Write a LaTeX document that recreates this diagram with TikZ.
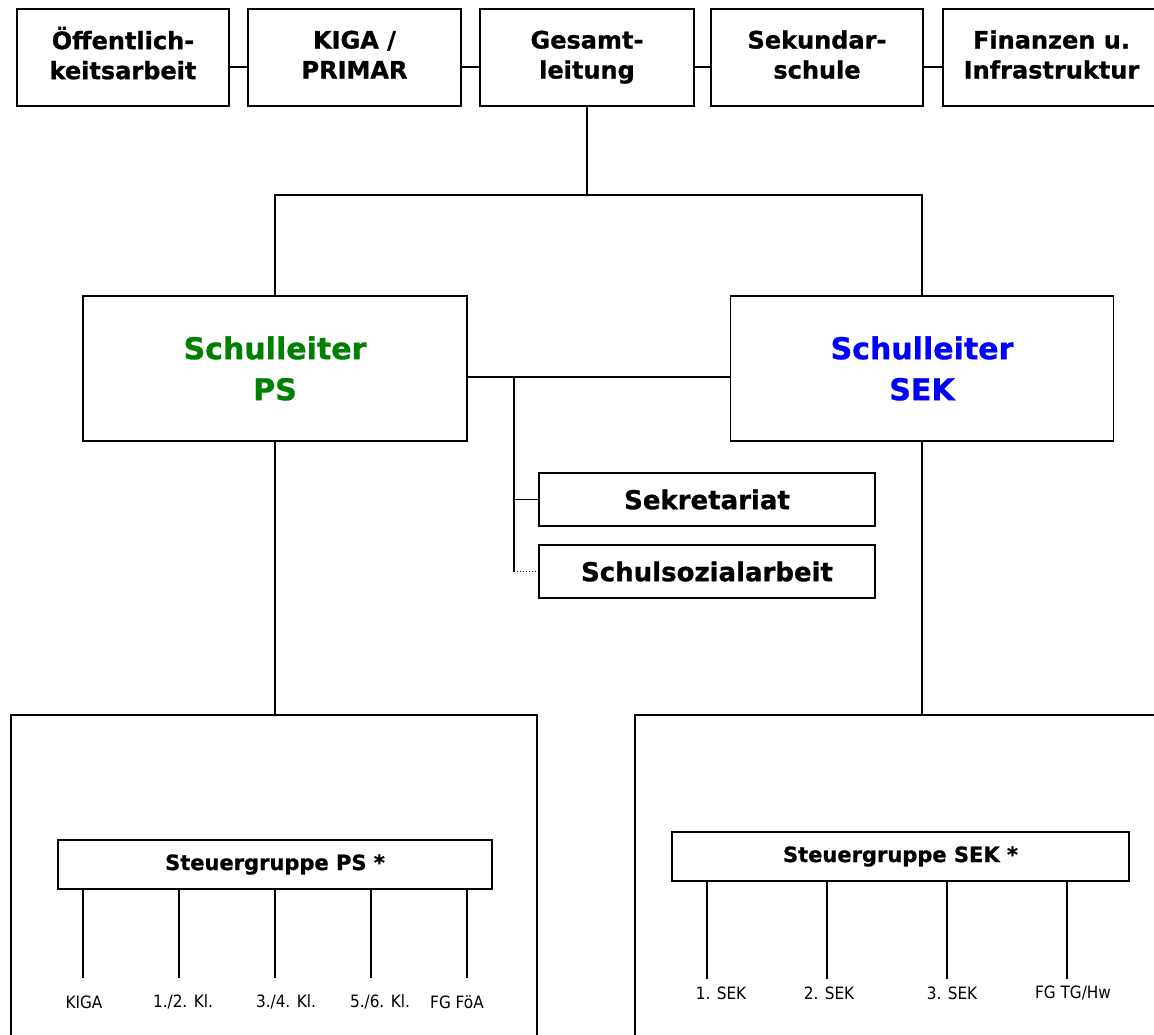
\documentclass[tikz,border=0pt]{standalone}
\usepackage{fontspec}
\setmainfont{DejaVu Sans}[BoldFeatures={FakeBold=1}]
\newfontfamily\condfont{DejaVu Sans Condensed}
\usetikzlibrary{calc}
\definecolor{psgreen}{RGB}{0,128,0}
\definecolor{sekblue}{RGB}{0,0,255}

\begin{document}
\begin{tikzpicture}[x=1pt,y=-1pt,line width=1.6pt,
  box/.style={draw,rectangle,line width=1.6pt,align=center,inner sep=0pt},
  topbox/.style={box,minimum width=212pt,minimum height=97pt,font=\bfseries\fontsize{24}{30}\selectfont},
  leitbox/.style={box,minimum width=384pt,minimum height=145pt,font=\bfseries\fontsize{30}{41}\selectfont},
  stabbox/.style={box,minimum width=336pt,minimum height=53pt,font=\bfseries\fontsize{26}{30}\selectfont},
  stgbox/.style={box,minimum height=49pt,font=\bfseries\fontsize{21}{25}\selectfont},
  stufe/.style={font=\condfont\fontsize{17}{20}\selectfont,inner sep=0pt}]
\clip (0,0) rectangle (1154,1034);

% top row
\node[topbox] (oeff) at (123,57.5) {Öffentlich-\strut\\keitsarbeit\strut};
\node[topbox,minimum width=213pt] (kiga) at (354.5,57.5) {KIGA /\strut\\PRIMAR\strut};
\node[topbox,minimum width=214pt] (gesamt) at (587,57.5) {Gesamt-\strut\\leitung\strut};
\node[topbox] (sek) at (817,57.5) {Sekundar-\strut\\schule\strut};
\node[topbox,minimum width=217pt] (fin) at (1051.5,57.5) {Finanzen u.\strut\\Infrastruktur\strut};

\draw ($(oeff.east)+(0,9.5)$) -- ($(kiga.west)+(0,9.5)$);
\draw ($(kiga.east)+(0,9.5)$) -- ($(gesamt.west)+(0,9.5)$);
\draw ($(gesamt.east)+(0,9.5)$) -- ($(sek.west)+(0,9.5)$);
\draw ($(sek.east)+(0,9.5)$) -- ($(fin.west)+(0,9.5)$);

% school heads
\node[leitbox,text=psgreen] (slps) at (275,368.5) {Schulleiter\\PS};
\node[leitbox,text=sekblue,minimum width=383pt] (slsek) at (922,368.5) {Schulleiter\\SEK};

\coordinate (split) at (587,195);
\draw (gesamt.south) -- (split);
\draw (slps.north) |- (split) -| (slsek.north);

\draw ($(slps.east)+(0,8.5)$) -- ($(slsek.west)+(0,8.5)$);

% staff
\node[stabbox] (sekr) at (707,499.5) {Sekretariat};
\node[stabbox] (ssa) at (707,571.5) {Schulsozialarbeit};

\coordinate (branch) at (514,377);
\draw (branch) -- (branch |- ssa.west);
\draw (branch |- sekr.west) -- (sekr.west);
\draw[dotted,line width=1pt] (branch |- ssa.west) -- (ssa.west);

% units
\node[box,minimum width=526pt,minimum height=335pt] (ps) at (274,882.5) {};
\node[box,minimum width=535pt,minimum height=335pt] (sekunit) at (902.5,882.5) {};
\draw (slps.south) -- (slps.south |- ps.north);
\draw (slsek.south) -- (slsek.south |- sekunit.north);

\node[stgbox,minimum width=434pt] (stgps) at (275,864.5) {Steuergruppe PS *};
\node[stgbox,minimum width=457pt] (stgsek) at (900.5,856.5) {Steuergruppe SEK *};

\foreach \x/\lx/\t [count=\i] in {83/84/KIGA, 179/183/{1./2. Kl.}, 275/286/{3./4. Kl.}, 371/380/{5./6. Kl.}, 467/457/{FG FöA}}{
  \coordinate (pe\i) at (\x,978);
  \draw (pe\i |- stgps.south) -- (pe\i);
  \node[stufe] (pl\i) at (\lx,1002) {\t};
}
\foreach \x/\lx/\t [count=\i] in {707/721/{1. SEK}, 827/829/{2. SEK}, 947/952/{3. SEK}, 1067/1073/{FG TG/Hw}}{
  \coordinate (se\i) at (\x,979);
  \draw (se\i |- stgsek.south) -- (se\i);
  \node[stufe] (sl\i) at (\lx,993) {\t};
}

\end{tikzpicture}
\end{document}
